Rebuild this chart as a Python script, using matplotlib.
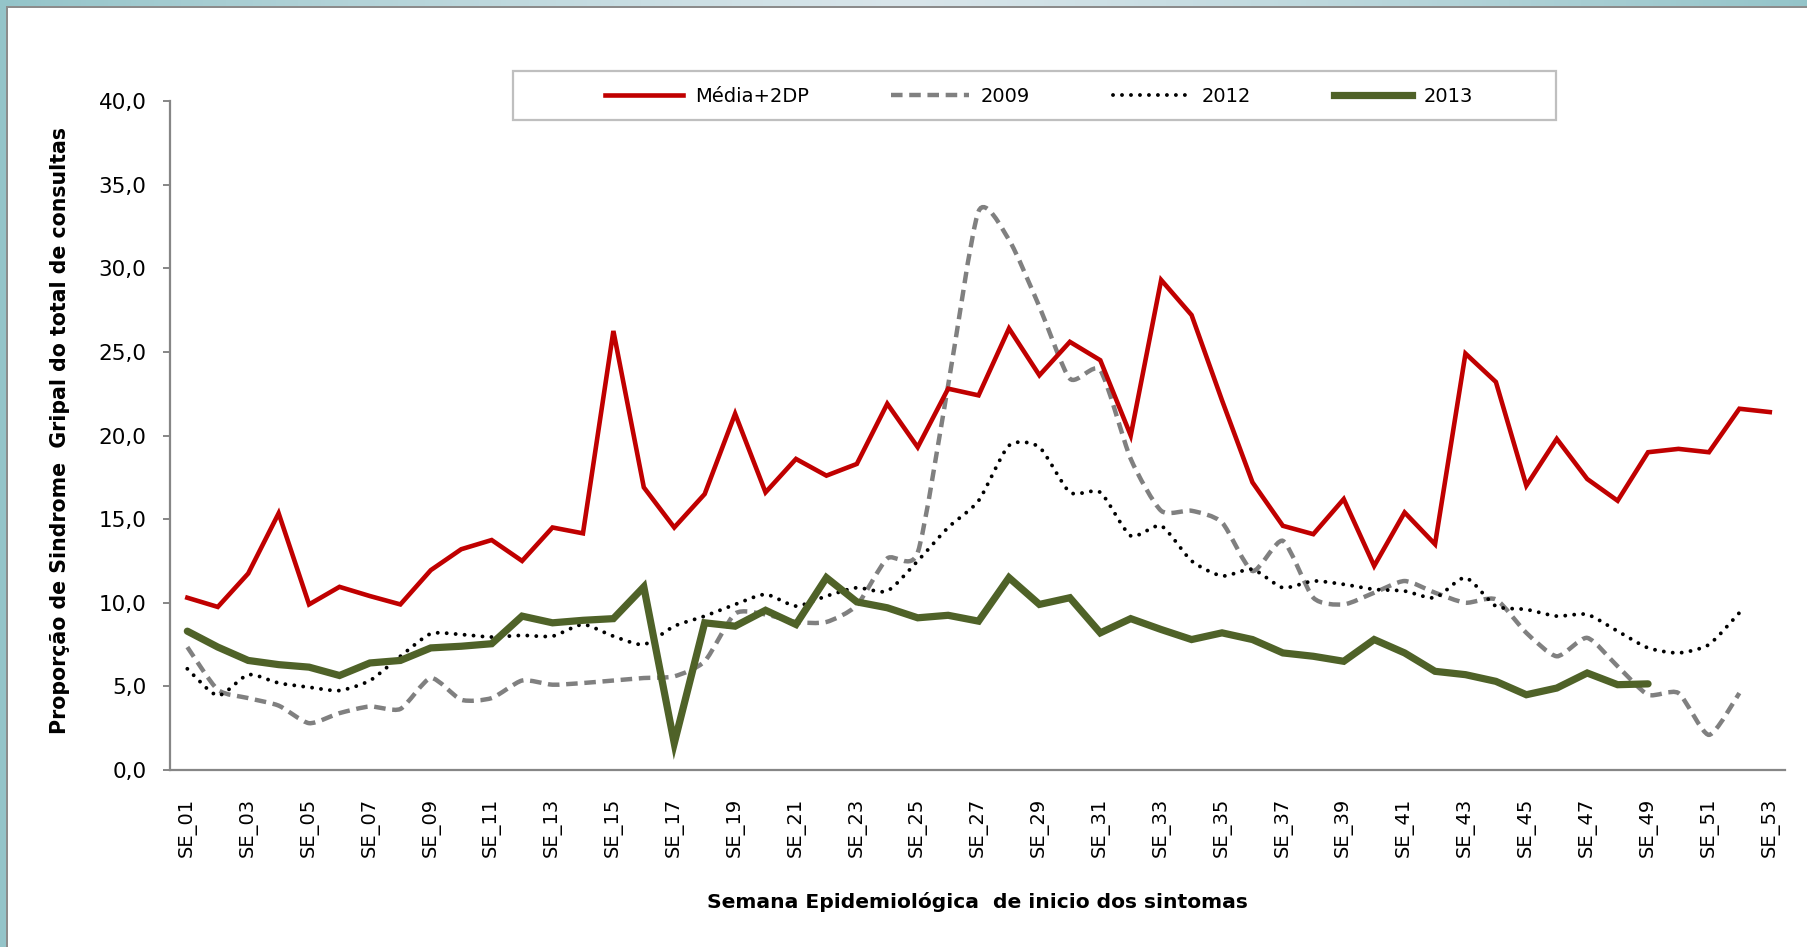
import numpy as np
import matplotlib
matplotlib.use("Agg")
import matplotlib.pyplot as plt
from matplotlib import font_manager
from matplotlib.path import Path
from matplotlib.patches import PathPatch, Rectangle
from matplotlib.lines import Line2D

# ---------------- data ----------------
weeks = list(range(1, 54))
week_labels = [f"SE_{w:02d}" for w in weeks]

media_2dp = [10.3, 9.75, 11.75, 15.35, 9.9, 10.95, 10.4, 9.9, 11.95, 13.2,
             13.75, 12.5, 14.5, 14.15, 26.25, 16.9, 14.5, 16.5, 21.3, 16.6,
             18.6, 17.6, 18.3, 21.9, 19.3, 22.8, 22.4, 26.4, 23.6, 25.6,
             24.5, 20.0, 29.3, 27.2, 22.1, 17.2, 14.6, 14.1, 16.2, 12.2,
             15.4, 13.5, 24.9, 23.2, 17.0, 19.8, 17.4, 16.1, 19.0, 19.2,
             19.0, 21.6, 21.4]

y2009 = [7.35, 4.8, 4.3, 3.85, 2.8, 3.4, 3.8, 3.65, 5.5, 4.2,
         4.3, 5.35, 5.1, 5.2, 5.35, 5.5, 5.6, 6.5, 9.35, 9.3,
         8.85, 8.85, 9.85, 12.65, 13.0, 23.0, 33.4, 31.7, 27.7, 23.4,
         23.9, 18.6, 15.5, 15.5, 14.8, 11.9, 13.7, 10.3, 9.9, 10.6,
         11.3, 10.6, 10.0, 10.2, 8.2, 6.8, 7.9, 6.2, 4.5, 4.6,
         2.1, 4.6]

y2012 = [6.05, 4.45, 5.7, 5.2, 4.95, 4.75, 5.35, 6.8, 8.15, 8.1,
         7.95, 8.05, 8.0, 8.7, 8.0, 7.5, 8.6, 9.2, 9.9, 10.5,
         9.8, 10.4, 10.9, 10.7, 12.5, 14.5, 16.1, 19.4, 19.3, 16.6,
         16.6, 14.0, 14.6, 12.5, 11.6, 12.0, 10.9, 11.3, 11.1, 10.8,
         10.7, 10.3, 11.5, 9.8, 9.6, 9.2, 9.3, 8.3, 7.3, 7.0,
         7.5, 9.4]

y2013 = [8.3, 7.35, 6.55, 6.3, 6.15, 5.65, 6.4, 6.55, 7.3, 7.4,
         7.55, 9.2, 8.8, 8.95, 9.05, 10.95, 1.6, 8.8, 8.6, 9.55,
         8.7, 11.5, 10.05, 9.7, 9.1, 9.25, 8.9, 11.5, 9.9, 10.3,
         8.2, 9.05, 8.4, 7.8, 8.2, 7.8, 7.0, 6.8, 6.5, 7.8,
         7.0, 5.9, 5.7, 5.3, 4.5, 4.9, 5.8, 5.1, 5.15]

series_names = ["Média+2DP", "2009", "2012", "2013"]
y_ticks = [0, 5, 10, 15, 20, 25, 30, 35, 40]
y_label = "Proporção de Sindrome  Gripal do total de consultas"
x_label = "Semana Epidemiológica  de inicio dos sintomas"

plt.rcParams["font.family"] = ["DejaVu Sans"]

RED = "#C00000"
GRAY = "#808080"
GREEN = "#4F6228"
AXC = "#868686"

W, H = 1807, 947
fig = plt.figure(figsize=(W / 100, H / 100), dpi=100)
fig.patch.set_facecolor("white")

# ---- frame decoration (teal strips + gray edge) ----
bg = fig.add_axes([0, 0, 1, 1], zorder=-10)
bg.set_xlim(0, W)
bg.set_ylim(H, 0)
bg.axis("off")
grad = np.abs(np.linspace(-1, 1, 400))
teal = np.array([0.58, 0.77, 0.79])
light = np.array([0.85, 0.90, 0.92])
cols = light[None, :] + (teal - light)[None, :] * (grad[:, None] ** 1.2)
bg.imshow(cols[None, :, :], extent=[0, W, 6, 0], aspect="auto")
bg.add_patch(Rectangle((0, 0), 6, H, color=teal, lw=0))
bg.add_patch(Rectangle((6, 6), W, 2, color="#8C8C8C", lw=0))
bg.add_patch(Rectangle((6, 6), 2, H, color="#8C8C8C", lw=0))
# legend frame
bg.add_patch(Rectangle((513, 71), 1556 - 513, 49, fill=False, edgecolor="#BFBFBF",
                       lw=1.6))

# ---- main axes ----
ax = fig.add_axes([170 / W, 1 - 770 / H, (1785 - 170) / W, (770 - 101) / H])
ax.set_facecolor("none")
ax.set_xlim(0.43, 53.5)
ax.set_ylim(0, 40)


def smooth_path(xs, ys, k=9.0):
    pts = np.column_stack([xs, ys])
    n = len(pts)
    verts = [pts[0]]
    codes = [Path.MOVETO]
    for i in range(n - 1):
        p0 = pts[i - 1] if i > 0 else pts[i]
        p1 = pts[i]
        p2 = pts[i + 1]
        p3 = pts[i + 2] if i + 2 < n else pts[i + 1]
        c1 = p1 + (p2 - p0) / k
        c2 = p2 - (p3 - p1) / k
        verts += [c1, c2, p2]
        codes += [Path.CURVE4] * 3
    return Path(verts, codes)


x2009 = weeks[:len(y2009)]
x2012 = weeks[:len(y2012)]
x2013 = weeks[:len(y2013)]

p09 = PathPatch(smooth_path(x2009, y2009), fill=False, edgecolor=GRAY, lw=3.2,
                linestyle=(0, (2.6, 1.5)), zorder=2)
p09.set_capstyle("butt")
ax.add_patch(p09)

p12 = PathPatch(smooth_path(x2012, y2012), fill=False, edgecolor="black", lw=2.8,
                linestyle=(0, (0.01, 2.3)), zorder=3)
p12.set_capstyle("round")
ax.add_patch(p12)

ax.plot(weeks, media_2dp, color=RED, lw=3.3, solid_joinstyle="miter", zorder=4)
ax.plot(x2013, y2013, color=GREEN, lw=5.2, solid_joinstyle="miter",
        solid_capstyle="round", zorder=5)

# axes styling
for s in ["top", "right"]:
    ax.spines[s].set_visible(False)
for s in ["left", "bottom"]:
    ax.spines[s].set_color(AXC)
    ax.spines[s].set_linewidth(1.6)
ax.set_yticks(y_ticks)
ax.set_yticklabels([f"{v:.1f}".replace(".", ",") for v in y_ticks], fontsize=15.5)
ax.tick_params(axis="y", direction="out", length=5, width=1.4, color=AXC, pad=12)
ax.set_xticks(weeks[::2])
ax.set_xticklabels(week_labels[::2], rotation=90, fontsize=14)
ax.tick_params(axis="x", length=0, pad=20)

fig.text(60 / W, 1 - 431 / H, y_label, rotation=90, ha="center", va="center",
         fontsize=14.8, fontweight="bold")
fig.text(977 / W, 1 - 902 / H, x_label, ha="center", va="center",
         fontsize=14.6, fontweight="bold")

handles = [
    Line2D([], [], color=RED, lw=3.3),
    Line2D([], [], color=GRAY, lw=3.2, linestyle=(0, (2.6, 1.5))),
    Line2D([], [], color="black", lw=2.8, linestyle=(0, (0.01, 2.3)),
           dash_capstyle="round"),
    Line2D([], [], color=GREEN, lw=5.2),
]
leg = fig.legend(handles, series_names, loc="center",
                 bbox_to_anchor=(1039 / W, 1 - 96 / H), ncol=4, frameon=False,
                 prop={"size": 14}, handlelength=4.0, handletextpad=0.6,
                 columnspacing=4.25)

fig.savefig("out.png", dpi=100, facecolor="white")
